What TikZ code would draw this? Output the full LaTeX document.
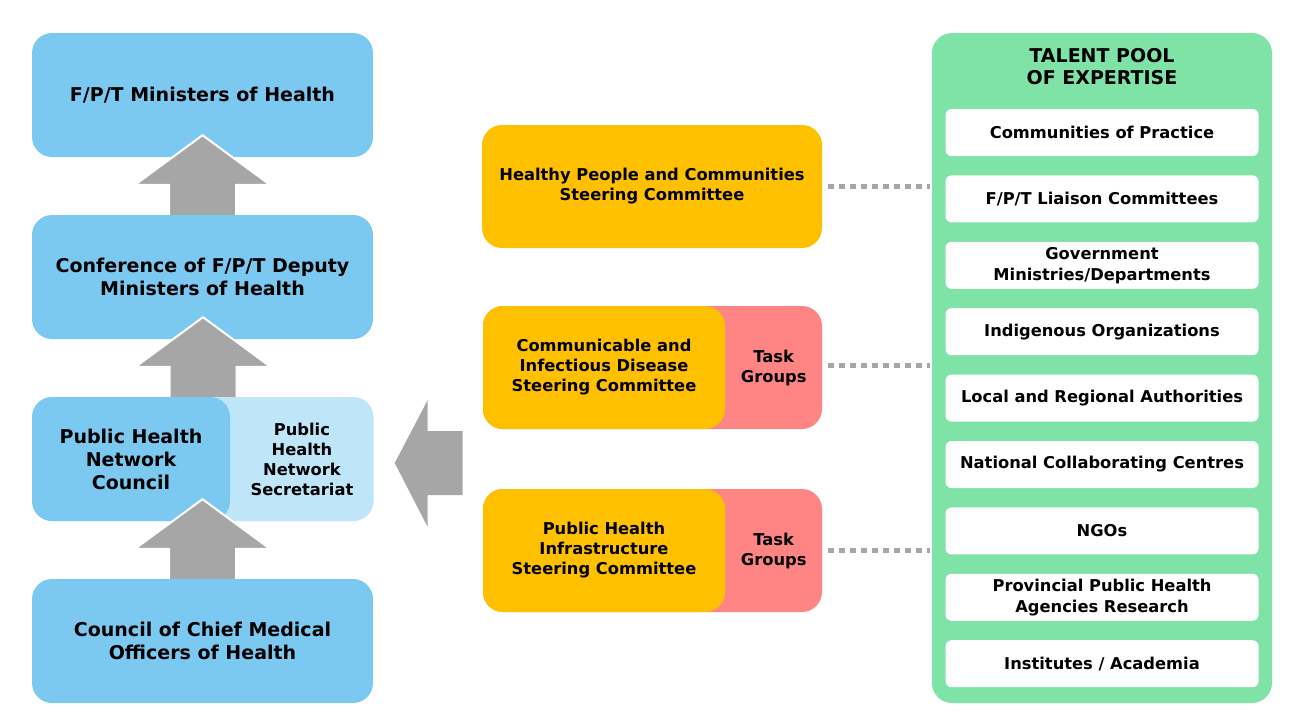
\documentclass[tikz,border=0pt]{standalone}
\usepackage{fontspec}
\setmainfont{DejaVu Sans}
\usetikzlibrary{calc}

\definecolor{phblue}{HTML}{7BC9F1}
\definecolor{phlight}{HTML}{BEE5F8}
\definecolor{steerorange}{HTML}{FFC000}
\definecolor{taskpink}{HTML}{FF8585}
\definecolor{poolgreen}{HTML}{7FE3A8}
\definecolor{arrowgray}{HTML}{A6A6A6}

\tikzset{
  bigfont/.style={font=\bfseries\fontsize{19}{23}\selectfont},
  midfont/.style={font=\bfseries\fontsize{16.3}{20}\selectfont},
  govbox/.style={fill=phblue, rounded corners=20pt, minimum width=341pt,
    minimum height=124pt, align=center, bigfont},
  steerbox/.style={fill=steerorange, rounded corners=20pt, minimum height=123pt,
    align=center, midfont},
  taskbox/.style={fill=taskpink, rounded corners=20pt, minimum width=339pt,
    minimum height=123pt},
  expert/.style={fill=white, rounded corners=6pt, minimum width=313pt,
    minimum height=47pt, align=center, font=\bfseries\fontsize{16.3}{21}\selectfont},
  dotline/.style={arrowgray, line width=5pt, dash pattern=on 6pt off 5pt,
    shorten <=6pt, shorten >=2pt},
  blockarrow/.style={fill=arrowgray, draw=white, line width=2pt}
}

% block arrow from the top of #1 up into the bottom of #2
\newcommand{\uparrowblock}[2]{
  \filldraw[blockarrow] ($(#1.north)+(-33.5,0)$) -- ++(0,-30) -- ++(-34,0)
    -- ($(#1.north |- #2.south)+(0,-22)$) -- ($(#1.north)+(67.5,-30)$) -- ++(-34,0)
    -- ++(0,30);
}

\begin{document}
\begin{tikzpicture}[x=1pt, y=-1pt]
  \useasboundingbox (0,0) rectangle (1293,723);

  % governance column
  \node[govbox] (mh) at (202.5,95) {F/P/T Ministers of Health};
  \node[govbox] (cdm) at (202.5,277) {Conference of F/P/T Deputy\\Ministers of Health};
  \node[govbox, fill=phlight] (phsec) at (203,459) {};
  \node[govbox, minimum width=198pt] (phnc) at (131,459) {Public Health\\Network\\Council};
  \node[midfont, align=center] (phsectxt) at ($(phnc.east)!0.5!(phsec.east)$)
    {Public\\Health\\Network\\Secretariat};
  \node[govbox] (cmoh) at (202.5,641) {Council of Chief Medical\\Officers of Health};

  \uparrowblock{cdm}{mh}
  \uparrowblock{phsec}{cdm}
  \uparrowblock{cmoh}{phnc}

  % steering committees
  \node[steerbox, minimum width=340pt] (hpc) at (652,186.5)
    {Healthy People and Communities\\Steering Committee};
  \node[taskbox] (tg1) at (652.5,367.5) {};
  \node[steerbox, minimum width=242pt] (cids) at (604,367.5)
    {Communicable and\\Infectious Disease\\Steering Committee};
  \node[midfont, align=center] (tg1txt) at ($(cids.east)!0.5!(tg1.east)$) {Task\\Groups};
  \node[taskbox] (tg2) at (652.5,550.5) {};
  \node[steerbox, minimum width=242pt] (phic) at (604,550.5)
    {Public Health\\Infrastructure\\Steering Committee};
  \node[midfont, align=center] (tg2txt) at ($(phic.east)!0.5!(tg2.east)$) {Task\\Groups};

  % arrow towards the secretariat
  \fill[arrowgray] ($(phsec.east)+(21,4)$) -- ++(33,-63) -- ++(0,31) -- ++(35,0)
    -- ++(0,64) -- ++(-35,0) -- ++(0,32) -- cycle;

  % talent pool
  \node[fill=poolgreen, rounded corners=20pt, minimum width=340pt,
    minimum height=670pt] (pool) at (1102,368) {};
  \node[align=center, font=\bfseries\fontsize{19}{22}\selectfont] (pooltitle)
    at (1102,67) {TALENT POOL\\OF EXPERTISE};
  \foreach \name [count=\i] in {Communities of Practice, F/P/T Liaison Committees,
      {Government\\Ministries/Departments}, Indigenous Organizations,
      Local and Regional Authorities, National Collaborating Centres, NGOs,
      {Provincial Public Health\\Agencies Research}, Institutes / Academia} {
    \node[expert] (ex\i) at (1102,{132.5+66.4*(\i-1)}) {\name};
  }

  % links to the pool
  \draw[dotline] (hpc.east) -- (hpc.east -| pool.west);
  \draw[dotline] ($(tg1.east)+(0,-2)$) -- ($(tg1.east -| pool.west)+(0,-2)$);
  \draw[dotline] (tg2.east) -- (tg2.east -| pool.west);
\end{tikzpicture}
\end{document}
